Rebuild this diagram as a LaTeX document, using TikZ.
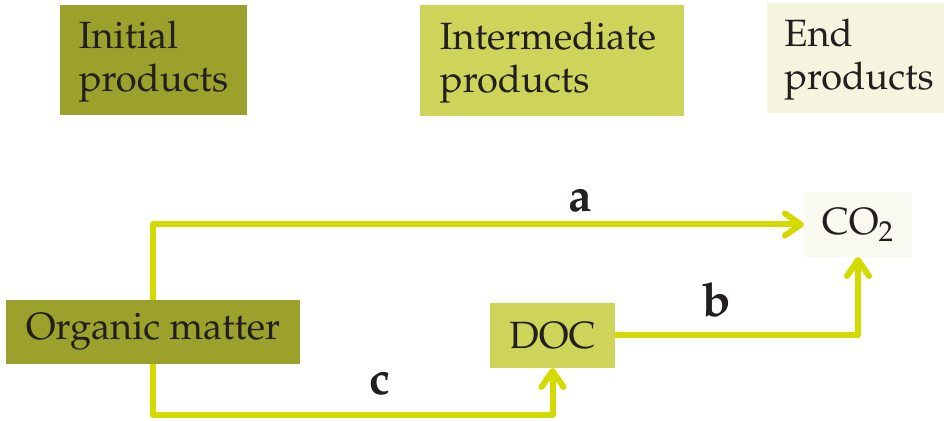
\documentclass[tikz,border=0pt]{standalone}
\usepackage[T1]{fontenc}
\usepackage{mathpazo}
\usetikzlibrary{arrows.meta}
\definecolor{olive}{HTML}{9CA12B}
\definecolor{midgreen}{HTML}{CED45A}
\definecolor{paleend}{HTML}{F4F4DF}
\definecolor{paleco}{HTML}{F9F9EF}
\definecolor{flowyellow}{HTML}{D4DA00}
\definecolor{ink}{HTML}{231F20}
\tikzset{
  box/.style={inner sep=0pt, outer sep=0pt, text=ink, align=left,
    font=\fontsize{19}{21.5}\selectfont},
  flow/.style={draw=flowyellow, line width=3pt, line join=round,
    -{Straight Barb[length=8pt, width=11pt, line cap=round, round]}},
  lbl/.style={text=ink, inner sep=0pt, anchor=base,
    font=\fontsize{23.5}{26}\selectfont\bfseries}
}
\begin{document}
\begin{tikzpicture}[x=0.5pt, y=-0.5pt]
\useasboundingbox (0,0) rectangle (944,421);
% legend boxes
\node[box, fill=olive, minimum width=93.5pt, minimum height=55pt] (init) at (153.5,60) {};
\node[box] (initt) at (153.5,62) {Initial\\products};
\node[box, fill=midgreen, minimum width=132pt, minimum height=55.5pt] (inter) at (552,60.5) {};
\node[box] (intert) at (548,62.5) {Intermediate\\products};
\node[box, fill=paleend, minimum width=88.5pt, minimum height=55pt] (endp) at (855.5,58) {};
\node[box] (endt) at (859,60) {End\\products};
% process nodes
\node[box, fill=olive, minimum width=147pt, minimum height=32pt] (om) at (153,332) {Organic matter};
\node[box, fill=midgreen, minimum width=62.5pt, minimum height=32.5pt] (doc) at (552.5,335.5) {DOC};
\node[box, fill=paleco, minimum width=54pt, minimum height=32.5pt] (co2) at (858,224.5) {CO\textsubscript{2}};
% connectors
\draw[flow] (om.north) |- (co2.west);
\draw[flow] (om.south) -- ++(0,51) -| (doc.south);
\draw[flow] (doc.east) -| (co2.south);
% labels
\node[lbl] (la) at (580,212) {a};
\node[lbl] (lb) at (717,317) {b};
\node[lbl] (lc) at (380,395) {c};
\end{tikzpicture}
\end{document}
